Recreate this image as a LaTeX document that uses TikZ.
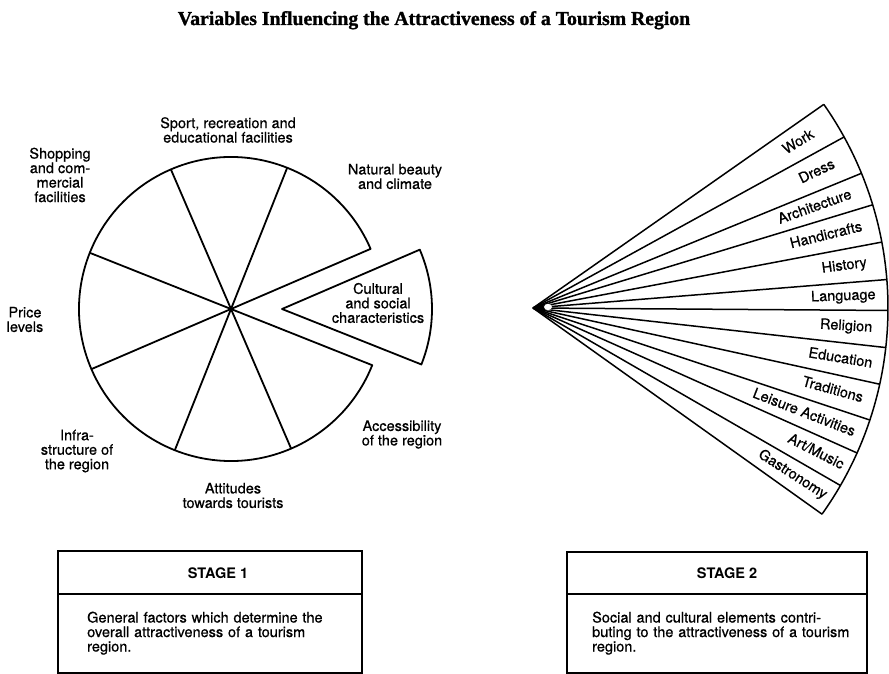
\documentclass[tikz,border=0pt]{standalone}
\usepackage{fontspec}
\usetikzlibrary{calc}
\setmainfont{TeX Gyre Heros}
\newfontfamily\titlefont[BoldFeatures={FakeBold=1.2}]{Liberation Serif}
\newfontfamily\lblfont[BoldFont={TeX Gyre Heros}, BoldFeatures={FakeBold=0.6}]{TeX Gyre Heros}
\newcommand{\lblsize}{\lblfont\bfseries\fontsize{14.5}{14.5}\selectfont}
\newcommand{\headsize}{\bfseries\fontsize{14.5}{14.5}\selectfont}
\begin{document}
\begin{tikzpicture}[x=1pt,y=1pt,
  lbl/.style={font=\lblsize, align=center, inner sep=0pt},
  fanlbl/.style={font=\lblsize, inner sep=0pt, anchor=east, text height=10.4pt, text depth=3pt},
  pieline/.style={line width=1.8pt, line join=round},
  fanline/.style={line width=1.5pt, line join=round},
  boxline/.style={line width=1.6pt},
  bodytext/.style={font=\lblsize, inner sep=0pt, anchor=north west, text width=255pt, align=left},
  stagehead/.style={font=\headsize, inner sep=0pt}
]
\useasboundingbox (0,0) rectangle (889,673);

% title
\node[font=\titlefont\bfseries\fontsize{19.7}{20}\selectfont, anchor=base, inner sep=0pt]
  (title) at (434,648) {Variables Influencing the Attractiveness of a Tourism Region};

% ---- stage 1: pie of eight factors, one slice pulled out ----
\coordinate (pc) at (231,364);
\draw[pieline] (pc) -- ++(23.3:152) arc[start angle=23.3, end angle=338.3, radius=152] -- cycle;
\foreach \a in {68.3,113.3,158.3,203.3,248.3,293.3}
  \draw[pieline] (pc) -- ++(\a:152);
\coordinate (sc) at (282,364);
\draw[pieline] (sc) -- ++(-21.7:150) arc[start angle=-21.7, end angle=23.3, radius=150] -- cycle;

\node[lbl] (sport)  at (228,543)   {Sport, recreation and\\educational facilities};
\node[lbl] (shop)   at (60,498)    {Shopping\\and com-\\mercial\\facilities};
\node[lbl] (nature) at (395,496.5) {Natural beauty\\and climate};
\node[lbl] (cult)   at (378,370)   {Cultural\\and social\\characteristics};
\node[lbl] (price)  at (25,353.5)  {Price\\levels};
\node[lbl] (infra)  at (77,222)    {Infra-\\structure of\\the region};
\node[lbl] (attit)  at (233,177.5) {Attitudes\\towards tourists};
\node[lbl] (access) at (402,238.5) {Accessibility\\of the region};

% ---- stage 2: fan of twelve elements ----
\coordinate (fa) at (533,365);
\foreach \a in {35,28.8,22.3,16.9,10.7,4.6,-0.4,-6.4,-12.4,-18.4,-24.1,-30.0,-35.5}
  \draw[fanline] (fa) -- ++(\a:355);
\draw[fanline] (fa) ++(35:355) arc[start angle=35, end angle=-35.5, radius=355];
\fill[white] (548,366) ellipse (4 and 3.2);

\foreach \m/\r/\t/\n in {31.9/330/Work/work, 25.55/334/Dress/dress,
    19.6/338/Architecture/arch, 13.8/339/Handicrafts/hand,
    7.65/337/History/hist, 2.1/343/Language/lang,
    -3.4/340/Religion/relig, -9.4/344/Education/educ,
    -15.4/342/Traditions/trad, -21.25/345/Leisure Activities/leis,
    -27.05/348/{Art/Music}/art, -32.75/348/Gastronomy/gast}
  \node[fanlbl, rotate=\m] (\n) at ($(fa)+(\m:\r)$) {\t};

% ---- explanation boxes ----
\draw[boxline] (58,0) rectangle (362,122);
\draw[boxline] (58,79) -- (362,79);
\node[stagehead] (st1) at (218,100) {STAGE 1};
\node[bodytext] (st1text) at (87,61.5)
  {\makebox[255pt][s]{General factors which determine the}\\
   \makebox[255pt][s]{overall attractiveness of a tourism}\\
   region.};

\draw[boxline] (567,0) rectangle (867,121);
\draw[boxline] (567,79) -- (867,79);
\node[stagehead] (st2) at (727,100) {STAGE 2};
\node[bodytext] (st2text) at (592,61.5)
  {\makebox[255pt][s]{Social and cultural elements contri-}\\
   \makebox[255pt][s]{buting to the attractiveness of a tourism}\\
   region.};
\end{tikzpicture}
\end{document}
